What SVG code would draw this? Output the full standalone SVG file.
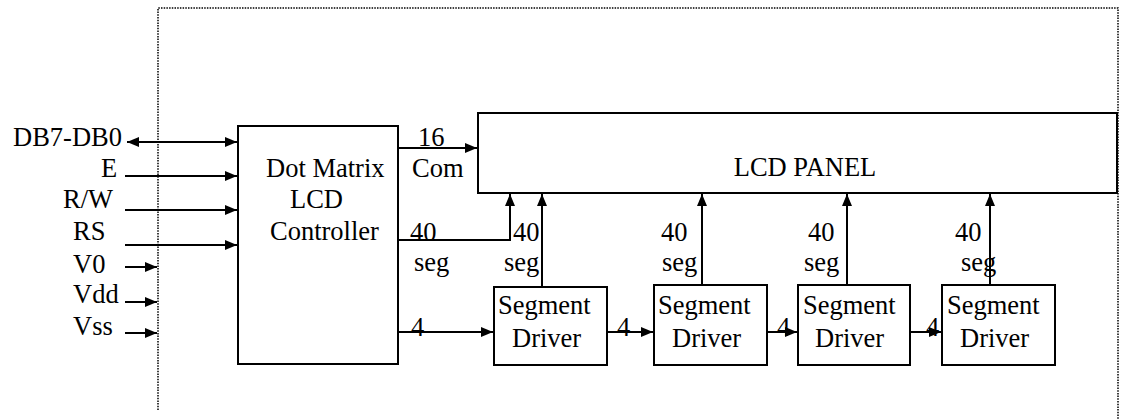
<svg xmlns="http://www.w3.org/2000/svg" width="1123" height="419" viewBox="0 0 1123 419">
<style>
text{font-family:"Liberation Serif","Times New Roman",serif;font-size:26.5px;fill:#000}
.box{fill:#fff;stroke:#000;stroke-width:2}
.ln{fill:none;stroke:#000;stroke-width:2}
.dot{fill:none;stroke:#000;stroke-width:1.5;stroke-dasharray:1.5 1.2}
</style>
<defs>
<marker id="ah" viewBox="0 0 12 10" refX="12" refY="5" markerWidth="12" markerHeight="10" markerUnits="userSpaceOnUse" orient="auto-start-reverse">
<path d="M0,0 L12,5 L0,10 Z" fill="#000"/>
</marker>
</defs>
<rect width="1123" height="419" fill="#fff"/>
<path class="dot" d="M158,410 V8 H1118 V419"/>

<g id="controller">
<rect class="box" x="238" y="126" width="160" height="238"/>
<text x="266" y="177">Dot Matrix</text>
<text x="290" y="208">LCD</text>
<text x="270" y="240">Controller</text>
</g>
<g id="lcd-panel">
<rect class="box" x="478" y="113" width="639" height="80"/>
<text x="805" y="176" text-anchor="middle">LCD PANEL</text>
</g>
<g id="seg-driver-1">
<rect class="box" x="494" y="287" width="113" height="78"/>
<text x="498" y="314">Segment</text>
<text x="512" y="347">Driver</text>
</g>
<g id="seg-driver-2">
<rect class="box" x="654" y="285" width="113" height="80"/>
<text x="658" y="314">Segment</text>
<text x="672" y="347">Driver</text>
</g>
<g id="seg-driver-3">
<rect class="box" x="798" y="285" width="112" height="80"/>
<text x="803" y="314">Segment</text>
<text x="815" y="347">Driver</text>
</g>
<g id="seg-driver-4">
<rect class="box" x="942" y="285" width="113" height="80"/>
<text x="947" y="314">Segment</text>
<text x="960" y="347">Driver</text>
</g>

<g id="inputs">
<text x="13" y="146">DB7-DB0</text>
<text x="101" y="177">E</text>
<text x="63" y="208">R/W</text>
<text x="73" y="240">RS</text>
<text x="73" y="273">V0</text>
<text x="73" y="303">Vdd</text>
<text x="73" y="335">Vss</text>
</g>

<g id="connectors">
<path class="ln" d="M127,142 H237" marker-start="url(#ah)" marker-end="url(#ah)"/>
<path class="ln" d="M125,176 H237" marker-end="url(#ah)"/>
<path class="ln" d="M125,210 H237" marker-end="url(#ah)"/>
<path class="ln" d="M125,245 H237" marker-end="url(#ah)"/>
<path class="ln" d="M125,267 H157" marker-end="url(#ah)"/>
<path class="ln" d="M125,302 H157" marker-end="url(#ah)"/>
<path class="ln" d="M125,333 H157" marker-end="url(#ah)"/>

<path class="ln" d="M398,148 H477" marker-end="url(#ah)"/>
<path class="ln" d="M398,240 H510 V194" marker-end="url(#ah)"/>
<path class="ln" d="M542,287 V194" marker-end="url(#ah)"/>
<path class="ln" d="M702,285 V194" marker-end="url(#ah)"/>
<path class="ln" d="M847,285 V194" marker-end="url(#ah)"/>
<path class="ln" d="M990,285 V194" marker-end="url(#ah)"/>

<path class="ln" d="M398,332 H493" marker-end="url(#ah)"/>
<path class="ln" d="M607,332 H653" marker-end="url(#ah)"/>
<path class="ln" d="M767,332 H797" marker-end="url(#ah)"/>
<path class="ln" d="M910,332 H941" marker-end="url(#ah)"/>

<text x="418" y="146">16</text>
<text x="412" y="177">Com</text>
<text x="410" y="241">40</text>
<text x="414" y="271">seg</text>
<text x="513" y="241">40</text>
<text x="504" y="271">seg</text>
<text x="661" y="241">40</text>
<text x="662" y="271">seg</text>
<text x="808" y="241">40</text>
<text x="804" y="271">seg</text>
<text x="955" y="241">40</text>
<text x="961" y="271">seg</text>

<text x="411" y="336">4</text>
<text x="617" y="336">4</text>
<text x="777" y="336">4</text>
<text x="926" y="336">4</text>
</g>
</svg>
